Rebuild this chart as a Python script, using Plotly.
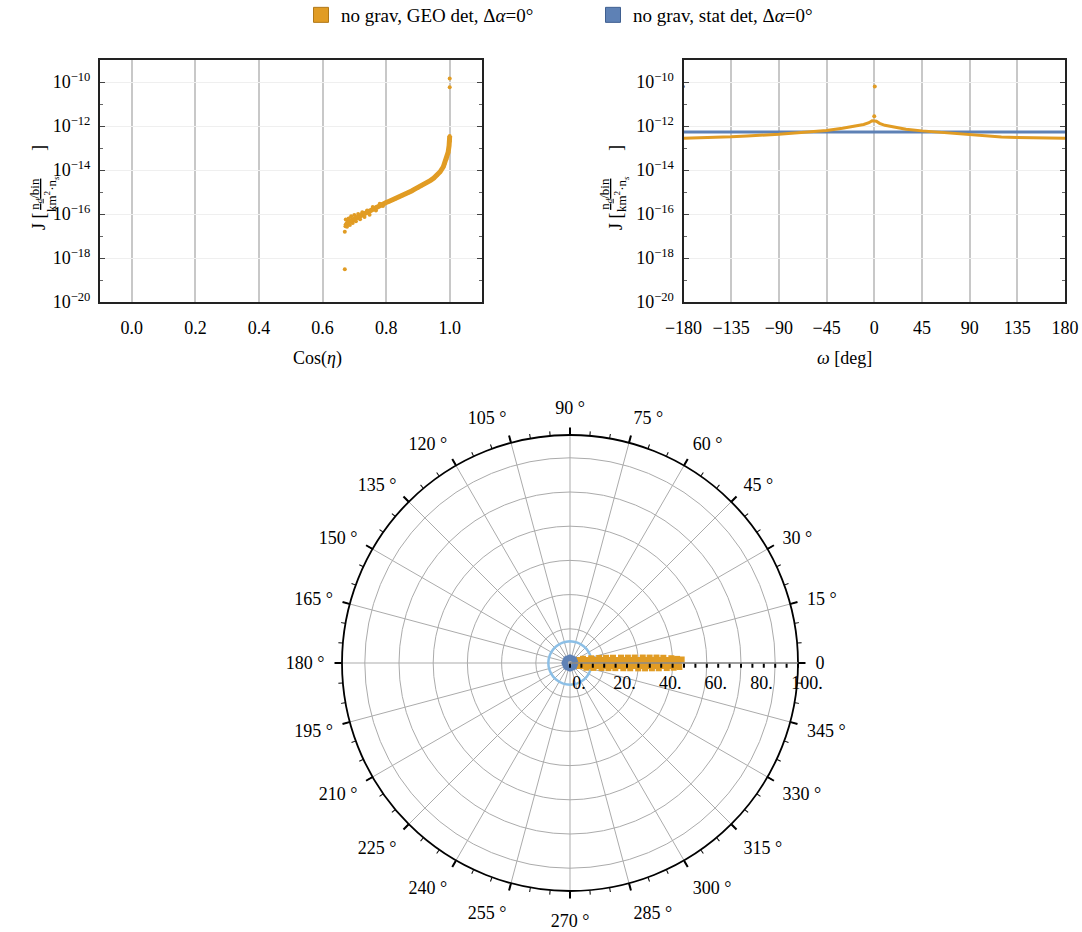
import plotly.graph_objects as go

# ---------------- data ----------------
ORANGE = "#E19C24"
BLUE = "#5E81B5"
LIGHTBLUE = "#8CBFE6"

# Left panel: J vs cos(eta) (GEO detector)
cos_eta = [0.672, 0.675, 0.68, 0.69, 0.70, 0.71, 0.72, 0.73, 0.74, 0.75, 0.76, 0.77,
           0.78, 0.79, 0.80, 0.81, 0.82, 0.83, 0.84, 0.85, 0.86, 0.87, 0.88, 0.89,
           0.90, 0.91, 0.92, 0.93, 0.94, 0.95, 0.96, 0.97, 0.98, 0.985, 0.99, 0.995,
           0.998, 0.999, 1.0]
J_cos = [2.8e-17, 3.5e-17, 4.2e-17, 5.0e-17, 6.0e-17, 7.1e-17, 8.5e-17, 1.0e-16,
         1.17e-16, 1.41e-16, 1.74e-16, 2.09e-16, 2.51e-16, 2.88e-16, 3.31e-16,
         3.8e-16, 4.37e-16, 5.0e-16, 5.9e-16, 6.9e-16, 8.1e-16, 9.5e-16, 1.12e-15,
         1.35e-15, 1.58e-15, 1.9e-15, 2.29e-15, 2.75e-15, 3.39e-15, 4.27e-15,
         5.75e-15, 8.3e-15, 1.41e-14, 2.09e-14, 3.16e-14, 6.3e-14, 1.26e-13,
         2.0e-13, 3.55e-13]
cos_spread = [0.673, 0.677, 0.682, 0.686, 0.69, 0.695, 0.70, 0.705, 0.712, 0.718,
              0.725, 0.732, 0.74, 0.748, 0.758, 0.768, 0.78, 0.79]
J_spread = [5.6e-17, 2.6e-17, 6.3e-17, 3.2e-17, 7.9e-17, 3.9e-17, 8.9e-17, 4.7e-17,
            1.0e-16, 5.8e-17, 1.2e-16, 7.4e-17, 1.45e-16, 9.3e-17, 2.1e-16, 1.45e-16,
            2.9e-16, 2.3e-16]
cos_out = [0.670, 0.670, 1.0, 1.0, 1.0]
J_out = [1.55e-17, 3.1e-19, 1.45e-10, 5.8e-11, 2.1e-13]

# Right panel: J vs omega
omega_geo = [-180, -165, -150, -135, -120, -105, -90, -75, -60, -45, -30, -20, -10,
             -5, -3, -2, 2, 3, 5, 10, 20, 30, 45, 60, 75, 90, 105, 120, 135, 150,
             165, 180]
J_omega_geo = [2.8e-13, 2.9e-13, 3.0e-13, 3.25e-13, 3.55e-13, 3.8e-13, 4.2e-13,
               4.8e-13, 5.4e-13, 6.3e-13, 7.9e-13, 9.3e-13, 1.17e-12, 1.41e-12,
               1.58e-12, 1.74e-12, 1.66e-12, 1.51e-12, 1.32e-12, 1.07e-12, 8.5e-13,
               7.2e-13, 6.0e-13, 5.2e-13, 4.6e-13, 4.0e-13, 3.55e-13, 3.16e-13,
               3.0e-13, 2.9e-13, 2.75e-13, 2.8e-13]
omega_geo_peak = [0, 0.5]
J_geo_peak = [2.75e-12, 6.3e-11]
omega_stat = [-180, -135, -90, -45, 0, 45, 90, 135, 180]
J_stat = [5.4e-13] * 9
omega_stat_out = [-180]
J_stat_out = [6.3e-11]

# Bottom panel: polar view
band_r = [0.8, 49]
band_theta = [0, 0]
edge_r = [6, 9.5, 13, 16, 19, 22.5, 25.5, 28.5, 32, 35, 38, 41, 44.5, 47, 49,
          7.5, 10.5, 14, 17, 20, 23.5, 26.5, 30, 33, 36, 39, 42.5, 45.5, 48]
edge_theta = [18, 12.5, 9.8, 8.2, 7.0, 6.0, 5.3, 4.8, 4.3, 3.9, 3.6, 3.2, 2.7, 2.2, 1.8,
              -16, -11.8, -9.0, -7.6, -6.5, -5.6, -5.0, -4.5, -4.1, -3.7, -3.4, -3.0,
              -2.6, -2.1]
stat_ring_theta = [0, 45, 90, 135, 180, 225, 270, 315, 360]
stat_ring_r = [2.4] * 9
circle_theta = list(range(0, 361, 10))
circle_r = [9.5] * len(circle_theta)

# axis labels
x1_ticks = [0.0, 0.2, 0.4, 0.6, 0.8, 1.0]
x1_text = ["0.0", "0.2", "0.4", "0.6", "0.8", "1.0"]
x2_ticks = [-180, -135, -90, -45, 0, 45, 90, 135, 180]
x2_text = ["\u2212180", "\u2212135", "\u221290", "\u221245", "0", "45", "90", "135", "180"]
y_major = [1e-20, 1e-18, 1e-16, 1e-14, 1e-12, 1e-10]
y_text = ["10<sup>\u221220</sup>", "10<sup>\u221218</sup>", "10<sup>\u221216</sup>",
          "10<sup>\u221214</sup>", "10<sup>\u221212</sup>", "10<sup>\u221210</sup>"]
y_minor = [1e-19, 1e-17, 1e-15, 1e-13, 1e-11]
ang_ticks = list(range(0, 360, 15))
ang_text = ["0"] + [f"{a} \u00b0" for a in ang_ticks[1:]]
minor_ang_ticks = list(range(0, 360, 5))
rad_ticks = list(range(0, 101, 5))
rad_text = [("\u00a0" * 4 + f"{v}.") if v % 20 == 0 else "" for v in rad_ticks]
ring_vals = [15, 30, 45, 60, 75, 90]

FONT = "Liberation Serif"
W, H = 1082, 932


def fx(p):
    return p / W


def fy(p):
    return 1 - p / H


fig = go.Figure()

# left panel
fig.add_trace(go.Scatter(x=cos_eta, y=J_cos, mode="lines+markers",
                         line=dict(color=ORANGE, width=5), marker=dict(color=ORANGE, size=4),
                         showlegend=False, xaxis="x", yaxis="y"))
fig.add_trace(go.Scatter(x=cos_spread, y=J_spread, mode="markers",
                         marker=dict(color=ORANGE, size=4), showlegend=False, xaxis="x", yaxis="y"))
fig.add_trace(go.Scatter(x=cos_out, y=J_out, mode="markers",
                         marker=dict(color=ORANGE, size=4), showlegend=False, xaxis="x", yaxis="y"))

# right panel
fig.add_trace(go.Scatter(x=omega_stat, y=J_stat, mode="lines",
                         line=dict(color=BLUE, width=3), showlegend=False, xaxis="x2", yaxis="y2"))
fig.add_trace(go.Scatter(x=omega_stat_out, y=J_stat_out, mode="markers",
                         marker=dict(color=BLUE, size=3), showlegend=False, xaxis="x2", yaxis="y2"))
fig.add_trace(go.Scatter(x=omega_geo, y=J_omega_geo, mode="lines",
                         line=dict(color=ORANGE, width=3), showlegend=False, xaxis="x2", yaxis="y2"))
fig.add_trace(go.Scatter(x=omega_geo_peak, y=J_geo_peak, mode="markers",
                         marker=dict(color=ORANGE, size=4), showlegend=False, xaxis="x2", yaxis="y2"))

# polar panel
fig.add_trace(go.Scatterpolar(theta=circle_theta, r=circle_r, mode="lines",
                              line=dict(color=LIGHTBLUE, width=2.5), showlegend=False,
                              subplot="polar"))
fig.add_trace(go.Scatterpolar(theta=band_theta, r=band_r, mode="lines",
                              line=dict(color=ORANGE, width=12), showlegend=False,
                              subplot="polar"))
fig.add_trace(go.Scatterpolar(theta=edge_theta, r=edge_r, mode="markers",
                              marker=dict(color=ORANGE, size=6, symbol="square"),
                              showlegend=False, subplot="polar"))
fig.add_trace(go.Scatterpolar(theta=stat_ring_theta, r=stat_ring_r, mode="lines",
                              line=dict(color=BLUE, width=6), showlegend=False,
                              subplot="polar"))
for sp in ("polar2", "polar3"):
    fig.add_trace(go.Scatterpolar(theta=[0], r=[0], mode="markers",
                                  marker=dict(color="rgba(0,0,0,0)", size=1), showlegend=False,
                                  hoverinfo="skip", subplot=sp))

# legend entries
fig.add_trace(go.Scatter(x=[None], y=[None], mode="markers",
                         name="no grav, GEO det, \u0394<i>\u03b1</i>=0\u00b0",
                         marker=dict(symbol="square", size=15, color=ORANGE,
                                     line=dict(color="#B07818", width=1))))
fig.add_trace(go.Scatter(x=[None], y=[None], mode="markers",
                         name="no grav, stat det, \u0394<i>\u03b1</i>=0\u00b0",
                         marker=dict(symbol="square", size=15, color=BLUE,
                                     line=dict(color="#3F5F90", width=1))))

common_y = dict(type="log", range=[-20, -9], tickvals=y_major, ticktext=y_text,
                ticks="inside", ticklen=5, tickcolor="#444", mirror="allticks",
                showline=True, linecolor="#222", linewidth=2,
                showgrid=True, gridcolor="#EFEFEF", gridwidth=1, zeroline=False,
                tickfont=dict(size=18), ticklabelstandoff=4,
                minor=dict(tickvals=y_minor, ticks="inside", ticklen=3, tickcolor="#666",
                           showgrid=False))
common_x = dict(showline=True, linecolor="#222", linewidth=2, mirror=True,
                showgrid=True, gridcolor="#C8C8C8", gridwidth=1.5, zeroline=False,
                ticks="", tickfont=dict(size=18), ticklabelstandoff=8)

polar_domain = dict(x=[fx(342), fx(798)], y=[fy(891), fy(435)])

frac = ("<u>n<sub><i>d</i></sub>/bin</u><br>km<sup>2</sup>\u00b7n<sub><i>s</i></sub>")
annotations = [
    dict(text="Cos(<i>\u03b7</i>)", x=fx(291), y=fy(358)),
    dict(text="<i>\u03c9</i> [deg]", x=fx(874), y=fy(358)),
]
for xc in (25, 614):
    annotations += [
        dict(text="J [", x=fx(xc + 2), y=fy(210), textangle=-90, font=dict(size=18)),
        dict(text=frac, x=fx(xc), y=fy(174), textangle=-90, font=dict(size=13)),
        dict(text="]", x=fx(xc + 2), y=fy(143), textangle=-90, font=dict(size=18)),
    ]
for a in annotations:
    a.update(xref="paper", yref="paper", showarrow=False)
    a.setdefault("font", dict(size=18))

fig.update_layout(
    width=W, height=H,
    margin=dict(l=0, r=0, t=0, b=0, autoexpand=False),
    paper_bgcolor="white", plot_bgcolor="white",
    font=dict(family=FONT, size=18, color="black"),
    xaxis=dict(domain=[fx(100), fx(481.5)], range=[-0.1, 1.1], tickvals=x1_ticks,
               ticktext=x1_text, anchor="y", **common_x),
    yaxis=dict(domain=[fy(302), fy(60)], anchor="x", **common_y),
    xaxis2=dict(domain=[fx(683.5), fx(1065)], range=[-180, 180], tickvals=x2_ticks,
                ticktext=x2_text, anchor="y2", **common_x),
    yaxis2=dict(domain=[fy(302), fy(60)], anchor="x2", **common_y),
    polar=dict(
        domain=polar_domain,
        bgcolor="white",
        angularaxis=dict(rotation=0, direction="counterclockwise", tickvals=ang_ticks,
                         ticktext=ang_text, ticks="outside", ticklen=13, tickwidth=1,
                         tickcolor="rgba(0,0,0,0)", showline=True, linecolor="black",
                         linewidth=1.8, showgrid=True, gridcolor="#ABABAB", gridwidth=1.3,
                         tickfont=dict(size=18)),
        radialaxis=dict(range=[0, 100], tickvals=ring_vals, showticklabels=False, ticks="",
                        showline=False, showgrid=True, gridcolor="#ABABAB", gridwidth=1.3),
    ),
    polar2=dict(
        domain=polar_domain,
        bgcolor="rgba(0,0,0,0)",
        angularaxis=dict(rotation=0, direction="counterclockwise",
                         tickvals=minor_ang_ticks, ticks="outside", ticklen=4,
                         tickwidth=1, tickcolor="black", showticklabels=False,
                         showline=False, showgrid=False),
        radialaxis=dict(range=[0, 100], angle=0, side="clockwise", tickvals=rad_ticks,
                        ticktext=rad_text, tickangle=0, ticks="outside", ticklen=4,
                        tickwidth=1.5, tickcolor="black", showline=True,
                        linecolor="#8A8A8A", linewidth=1.5, showgrid=False,
                        tickfont=dict(size=18)),
    ),
    polar3=dict(
        domain=polar_domain,
        bgcolor="rgba(0,0,0,0)",
        angularaxis=dict(rotation=0, direction="counterclockwise", tickvals=ang_ticks,
                         ticks="outside", ticklen=7, tickwidth=1.5, tickcolor="black",
                         showticklabels=False, showline=False, showgrid=False),
        radialaxis=dict(range=[0, 100], visible=False, showgrid=False),
    ),
    legend=dict(orientation="h", x=fx(301), y=fy(15), xanchor="left", yanchor="middle",
                font=dict(size=19), entrywidth=247, bgcolor="rgba(0,0,0,0)",
                itemclick=False),
    annotations=annotations,
)

# remove the browser's default 8px page margin so the figure sits at the window origin
page_style = ("document.body.style.margin='0px';"
              "document.body.style.overflow='hidden';"
              "document.documentElement.style.overflow='hidden';")
fig.write_html("out.html", post_script=page_style, config={"displayModeBar": False})
